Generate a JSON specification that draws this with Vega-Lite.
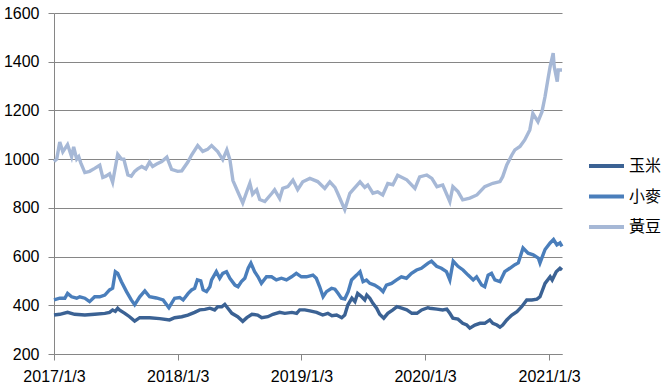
{
 "$schema": "https://vega.github.io/schema/vega-lite/v6.json",
 "width": 508, "height": 341,
 "autosize": {"type": "none"},
 "padding": {"left": 54, "top": 13, "right": 102, "bottom": 33},
 "background": "white",
 "config": {"view": {"stroke": null}, "font": "Liberation Sans"},
 "datasets": {
  "corn": [
   {"date":"2017-01-03","value":360},{"date":"2017-01-20","value":363},{"date":"2017-02-12","value":371},{"date":"2017-03-05","value":363},{"date":"2017-04-04","value":360},{"date":"2017-05-03","value":363},{"date":"2017-06-02","value":367},{"date":"2017-06-16","value":371},{"date":"2017-06-25","value":381},{"date":"2017-07-03","value":375},{"date":"2017-07-10","value":388},{"date":"2017-07-16","value":380},{"date":"2017-07-31","value":367},{"date":"2017-08-14","value":353},{"date":"2017-08-29","value":335},{"date":"2017-09-13","value":349},{"date":"2017-10-12","value":349},{"date":"2017-11-11","value":345},{"date":"2017-12-10","value":340},{"date":"2017-12-25","value":349},{"date":"2018-01-15","value":353},{"date":"2018-02-02","value":360},{"date":"2018-02-22","value":371},{"date":"2018-03-09","value":381},{"date":"2018-03-24","value":383},{"date":"2018-04-08","value":388},{"date":"2018-04-22","value":381},{"date":"2018-05-01","value":394},{"date":"2018-05-13","value":394},{"date":"2018-05-22","value":404},{"date":"2018-05-31","value":388},{"date":"2018-06-12","value":367},{"date":"2018-06-29","value":353},{"date":"2018-07-14","value":334},{"date":"2018-07-26","value":349},{"date":"2018-08-10","value":363},{"date":"2018-08-27","value":360},{"date":"2018-09-08","value":349},{"date":"2018-09-26","value":353},{"date":"2018-10-11","value":363},{"date":"2018-10-31","value":371},{"date":"2018-11-15","value":367},{"date":"2018-12-06","value":371},{"date":"2018-12-20","value":367},{"date":"2018-12-29","value":381},{"date":"2019-01-13","value":381},{"date":"2019-01-28","value":377},{"date":"2019-02-17","value":371},{"date":"2019-03-07","value":360},{"date":"2019-03-22","value":367},{"date":"2019-04-03","value":357},{"date":"2019-04-17","value":360},{"date":"2019-05-02","value":349},{"date":"2019-05-11","value":360},{"date":"2019-05-20","value":401},{"date":"2019-06-01","value":429},{"date":"2019-06-10","value":415},{"date":"2019-06-18","value":449},{"date":"2019-06-30","value":435},{"date":"2019-07-09","value":422},{"date":"2019-07-15","value":442},{"date":"2019-07-24","value":429},{"date":"2019-08-02","value":408},{"date":"2019-08-13","value":388},{"date":"2019-08-22","value":363},{"date":"2019-09-03","value":347},{"date":"2019-09-15","value":367},{"date":"2019-09-30","value":381},{"date":"2019-10-12","value":394},{"date":"2019-10-26","value":388},{"date":"2019-11-10","value":381},{"date":"2019-11-25","value":367},{"date":"2019-12-10","value":367},{"date":"2019-12-24","value":381},{"date":"2020-01-11","value":390},{"date":"2020-01-17","value":388},{"date":"2020-02-07","value":384},{"date":"2020-02-24","value":381},{"date":"2020-03-07","value":384},{"date":"2020-03-16","value":367},{"date":"2020-03-25","value":347},{"date":"2020-04-09","value":343},{"date":"2020-04-23","value":326},{"date":"2020-05-05","value":319},{"date":"2020-05-14","value":306},{"date":"2020-05-29","value":319},{"date":"2020-06-13","value":326},{"date":"2020-06-27","value":326},{"date":"2020-07-12","value":340},{"date":"2020-07-21","value":326},{"date":"2020-08-02","value":319},{"date":"2020-08-11","value":310},{"date":"2020-08-19","value":319},{"date":"2020-08-31","value":340},{"date":"2020-09-15","value":360},{"date":"2020-09-30","value":374},{"date":"2020-10-14","value":394},{"date":"2020-10-29","value":422},{"date":"2020-11-13","value":422},{"date":"2020-11-28","value":425},{"date":"2020-12-07","value":435},{"date":"2020-12-22","value":490},{"date":"2021-01-06","value":517},{"date":"2021-01-12","value":504},{"date":"2021-01-24","value":538},{"date":"2021-02-04","value":552},{"date":"2021-02-10","value":545}
  ],
  "wheat": [
   {"date":"2017-01-03","value":422},{"date":"2017-01-20","value":429},{"date":"2017-02-04","value":429},{"date":"2017-02-12","value":449},{"date":"2017-02-24","value":435},{"date":"2017-03-11","value":429},{"date":"2017-03-20","value":435},{"date":"2017-04-04","value":429},{"date":"2017-04-18","value":415},{"date":"2017-05-03","value":435},{"date":"2017-05-18","value":435},{"date":"2017-06-02","value":442},{"date":"2017-06-16","value":463},{"date":"2017-06-25","value":470},{"date":"2017-07-03","value":538},{"date":"2017-07-10","value":531},{"date":"2017-07-21","value":497},{"date":"2017-08-05","value":456},{"date":"2017-08-19","value":422},{"date":"2017-08-29","value":402},{"date":"2017-09-13","value":435},{"date":"2017-09-28","value":459},{"date":"2017-10-12","value":435},{"date":"2017-11-01","value":430},{"date":"2017-11-21","value":422},{"date":"2017-12-08","value":390},{"date":"2017-12-25","value":429},{"date":"2018-01-09","value":432},{"date":"2018-01-19","value":422},{"date":"2018-02-03","value":449},{"date":"2018-02-13","value":463},{"date":"2018-02-22","value":470},{"date":"2018-03-02","value":504},{"date":"2018-03-12","value":500},{"date":"2018-03-19","value":463},{"date":"2018-03-29","value":456},{"date":"2018-04-08","value":476},{"date":"2018-04-13","value":504},{"date":"2018-04-27","value":538},{"date":"2018-05-07","value":511},{"date":"2018-05-16","value":531},{"date":"2018-05-27","value":538},{"date":"2018-06-06","value":511},{"date":"2018-06-21","value":483},{"date":"2018-06-30","value":476},{"date":"2018-07-10","value":497},{"date":"2018-07-20","value":511},{"date":"2018-07-30","value":552},{"date":"2018-08-07","value":573},{"date":"2018-08-18","value":538},{"date":"2018-08-28","value":517},{"date":"2018-09-07","value":490},{"date":"2018-09-22","value":517},{"date":"2018-10-07","value":517},{"date":"2018-10-21","value":504},{"date":"2018-11-05","value":511},{"date":"2018-11-20","value":504},{"date":"2018-12-05","value":517},{"date":"2018-12-19","value":531},{"date":"2019-01-03","value":517},{"date":"2019-01-18","value":517},{"date":"2019-02-06","value":524},{"date":"2019-02-16","value":511},{"date":"2019-02-26","value":476},{"date":"2019-03-08","value":435},{"date":"2019-03-18","value":456},{"date":"2019-04-02","value":470},{"date":"2019-04-12","value":466},{"date":"2019-04-21","value":449},{"date":"2019-05-01","value":429},{"date":"2019-05-11","value":426},{"date":"2019-05-21","value":456},{"date":"2019-05-31","value":504},{"date":"2019-06-15","value":524},{"date":"2019-06-25","value":538},{"date":"2019-07-04","value":497},{"date":"2019-07-14","value":504},{"date":"2019-07-24","value":490},{"date":"2019-08-07","value":483},{"date":"2019-08-22","value":470},{"date":"2019-09-01","value":456},{"date":"2019-09-11","value":483},{"date":"2019-09-26","value":490},{"date":"2019-10-11","value":504},{"date":"2019-10-25","value":517},{"date":"2019-11-09","value":511},{"date":"2019-11-24","value":531},{"date":"2019-12-09","value":545},{"date":"2019-12-23","value":552},{"date":"2020-01-12","value":573},{"date":"2020-01-22","value":581},{"date":"2020-02-06","value":560},{"date":"2020-02-20","value":552},{"date":"2020-03-06","value":538},{"date":"2020-03-16","value":504},{"date":"2020-03-26","value":581},{"date":"2020-04-09","value":560},{"date":"2020-04-24","value":545},{"date":"2020-05-09","value":524},{"date":"2020-05-24","value":504},{"date":"2020-06-03","value":517},{"date":"2020-06-18","value":483},{"date":"2020-06-27","value":476},{"date":"2020-07-07","value":524},{"date":"2020-07-17","value":531},{"date":"2020-07-27","value":504},{"date":"2020-08-11","value":497},{"date":"2020-08-25","value":538},{"date":"2020-09-09","value":552},{"date":"2020-09-24","value":567},{"date":"2020-10-04","value":574},{"date":"2020-10-18","value":635},{"date":"2020-11-02","value":614},{"date":"2020-11-17","value":607},{"date":"2020-12-02","value":594},{"date":"2020-12-07","value":574},{"date":"2020-12-22","value":629},{"date":"2021-01-06","value":656},{"date":"2021-01-16","value":670},{"date":"2021-01-26","value":648},{"date":"2021-02-04","value":656},{"date":"2021-02-10","value":642}
  ],
  "soy": [
   {"date":"2017-01-03","value":990},{"date":"2017-01-11","value":1000},{"date":"2017-01-20","value":1070},{"date":"2017-01-29","value":1030},{"date":"2017-02-12","value":1060},{"date":"2017-02-24","value":1010},{"date":"2017-03-02","value":1050},{"date":"2017-03-11","value":1000},{"date":"2017-03-17","value":1010},{"date":"2017-03-23","value":985},{"date":"2017-04-04","value":945},{"date":"2017-04-18","value":950},{"date":"2017-05-03","value":962},{"date":"2017-05-18","value":975},{"date":"2017-05-27","value":925},{"date":"2017-06-05","value":930},{"date":"2017-06-16","value":940},{"date":"2017-06-25","value":905},{"date":"2017-07-10","value":1020},{"date":"2017-07-21","value":1000},{"date":"2017-07-28","value":1000},{"date":"2017-08-09","value":935},{"date":"2017-08-19","value":930},{"date":"2017-08-29","value":950},{"date":"2017-09-07","value":960},{"date":"2017-09-19","value":970},{"date":"2017-10-01","value":960},{"date":"2017-10-12","value":988},{"date":"2017-10-21","value":970},{"date":"2017-11-02","value":980},{"date":"2017-11-17","value":990},{"date":"2017-12-02","value":1008},{"date":"2017-12-16","value":958},{"date":"2018-01-03","value":950},{"date":"2018-01-15","value":952},{"date":"2018-02-02","value":988},{"date":"2018-02-13","value":1017},{"date":"2018-03-03","value":1056},{"date":"2018-03-18","value":1032},{"date":"2018-04-01","value":1040},{"date":"2018-04-13","value":1056},{"date":"2018-05-01","value":1031},{"date":"2018-05-16","value":998},{"date":"2018-05-28","value":1038},{"date":"2018-06-06","value":998},{"date":"2018-06-15","value":912},{"date":"2018-06-29","value":867},{"date":"2018-07-14","value":820},{"date":"2018-07-26","value":867},{"date":"2018-08-04","value":901},{"date":"2018-08-12","value":856},{"date":"2018-08-24","value":874},{"date":"2018-09-02","value":834},{"date":"2018-09-17","value":826},{"date":"2018-10-08","value":860},{"date":"2018-10-16","value":874},{"date":"2018-10-31","value":838},{"date":"2018-11-09","value":880},{"date":"2018-11-24","value":887},{"date":"2018-12-09","value":914},{"date":"2018-12-23","value":875},{"date":"2019-01-07","value":907},{"date":"2019-01-28","value":921},{"date":"2019-02-20","value":908},{"date":"2019-03-13","value":880},{"date":"2019-03-28","value":907},{"date":"2019-04-12","value":884},{"date":"2019-04-20","value":860},{"date":"2019-05-11","value":793},{"date":"2019-05-26","value":860},{"date":"2019-06-04","value":874},{"date":"2019-06-25","value":907},{"date":"2019-07-09","value":884},{"date":"2019-07-18","value":894},{"date":"2019-08-02","value":860},{"date":"2019-08-16","value":866},{"date":"2019-08-31","value":853},{"date":"2019-09-15","value":900},{"date":"2019-09-30","value":895},{"date":"2019-10-14","value":934},{"date":"2019-11-10","value":915},{"date":"2019-12-04","value":880},{"date":"2019-12-18","value":927},{"date":"2020-01-08","value":935},{"date":"2020-01-23","value":921},{"date":"2020-02-07","value":887},{"date":"2020-02-24","value":894},{"date":"2020-03-16","value":826},{"date":"2020-03-25","value":887},{"date":"2020-04-09","value":867},{"date":"2020-04-23","value":833},{"date":"2020-05-14","value":840},{"date":"2020-06-04","value":853},{"date":"2020-06-27","value":887},{"date":"2020-07-21","value":901},{"date":"2020-08-11","value":908},{"date":"2020-08-19","value":928},{"date":"2020-08-31","value":976},{"date":"2020-09-15","value":1017},{"date":"2020-09-24","value":1038},{"date":"2020-10-09","value":1052},{"date":"2020-10-23","value":1079},{"date":"2020-11-07","value":1120},{"date":"2020-11-16","value":1188},{"date":"2020-12-01","value":1154},{"date":"2020-12-13","value":1195},{"date":"2020-12-22","value":1257},{"date":"2020-12-31","value":1332},{"date":"2021-01-06","value":1380},{"date":"2021-01-15","value":1435},{"date":"2021-01-18","value":1380},{"date":"2021-01-27","value":1318},{"date":"2021-01-30","value":1366},{"date":"2021-02-10","value":1366}
  ]
 },
 "encoding": {
  "x": {"field": "date", "type": "temporal",
   "scale": {"type": "utc", "domain": [{"year": 2017, "month": 1, "date": 3, "utc": true}, {"year": 2021, "month": 2, "date": 10, "utc": true}]},
   "axis": {"title": null, "grid": false, "labelExpr": "utcFormat(datum.value, '%Y/%-m/%-d')",
    "values": [{"year": 2017, "month": 1, "date": 3, "utc": true}, {"year": 2018, "month": 1, "date": 3, "utc": true}, {"year": 2019, "month": 1, "date": 3, "utc": true}, {"year": 2020, "month": 1, "date": 3, "utc": true}, {"year": 2021, "month": 1, "date": 3, "utc": true}],
    "domainColor": "#868686", "tickColor": "#868686", "tickSize": 6, "labelFontSize": 16, "labelColor": "#000000", "labelPadding": 8, "labelFlush": false, "labelOverlap": false}},
  "y": {"field": "value", "type": "quantitative",
   "scale": {"domain": [200, 1600], "nice": false, "zero": false},
   "axis": {"title": null, "format": "d", "values": [200, 400, 600, 800, 1000, 1200, 1400, 1600], "gridColor": "#868686", "gridOpacity": 1, "domainColor": "#868686", "tickColor": "#868686", "tickSize": 6, "labelFontSize": 16, "labelColor": "#000000", "labelPadding": 9}},
  "color": {"field": "series", "type": "nominal",
   "scale": {"domain": ["玉米", "小麥", "黃豆"], "range": ["#3B6294", "#4A7EBB", "#A6B8D6"]},
   "legend": {"title": null, "orient": "none", "legendX": 533, "legendY": 138, "symbolType": "stroke", "symbolSize": 1225, "symbolStrokeWidth": 4, "labelFont": "Noto Sans CJK TC", "labelFontSize": 16, "labelColor": "#000000", "labelOffset": 3, "clipHeight": 30, "rowPadding": 0.5, "padding": 0}}
 },
 "layer": [
  {
   "data": {"name": "soy"},
   "transform": [{"calculate": "'黃豆'", "as": "series"}],
   "mark": {"type": "line", "strokeWidth": 3.4}
  },
  {
   "data": {"name": "wheat"},
   "transform": [{"calculate": "'小麥'", "as": "series"}],
   "mark": {"type": "line", "strokeWidth": 3.4}
  },
  {
   "data": {"name": "corn"},
   "transform": [{"calculate": "'玉米'", "as": "series"}],
   "mark": {"type": "line", "strokeWidth": 3.4}
  }
 ]
}
